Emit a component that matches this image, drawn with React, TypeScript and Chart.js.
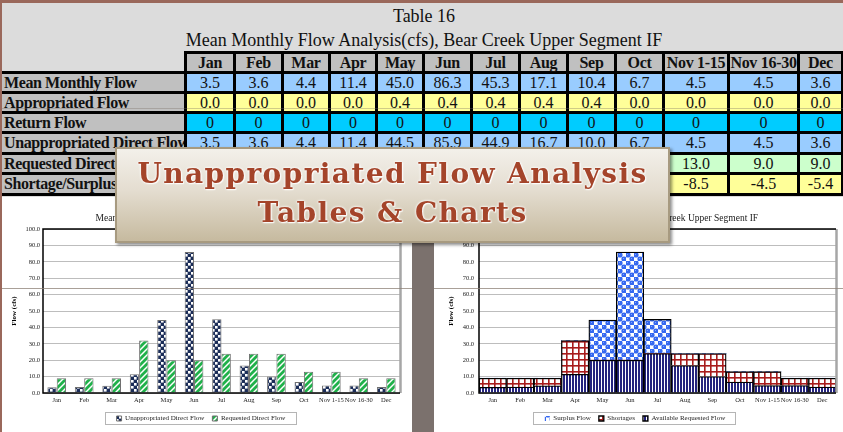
import React, { useEffect, useRef } from "react";
import { Chart, registerables } from "chart.js";
Chart.register(...registerables);

const categories = ["Jan", "Feb", "Mar", "Apr", "May", "Jun", "Jul", "Aug", "Sep", "Oct", "Nov 1-15", "Nov 16-30", "Dec"];
const meanMonthlyFlow = [3.5, 3.6, 4.4, 11.4, 45.0, 86.3, 45.3, 17.1, 10.4, 6.7, 4.5, 4.5, 3.6];
const appropriatedFlow = [0.0, 0.0, 0.0, 0.0, 0.4, 0.4, 0.4, 0.4, 0.4, 0.0, 0.0, 0.0, 0.0];
const returnFlow = [0, 0, 0, 0, 0, 0, 0, 0, 0, 0, 0, 0, 0];
const unappropriatedDirectFlow = [3.5, 3.6, 4.4, 11.4, 44.5, 85.9, 44.9, 16.7, 10.0, 6.7, 4.5, 4.5, 3.6];
const requestedDirectFlow = [9.0, 9.0, 9.0, 32.0, 20.0, 20.0, 24.0, 24.0, 24.0, 13.0, 13.0, 9.0, 9.0];
const shortageSurplus = [-5.5, -5.4, -4.6, -20.6, 24.5, 65.9, 20.9, -7.3, -14.0, -6.3, -8.5, -4.5, -5.4];

const availableRequestedFlow = [3.5, 3.6, 4.4, 11.4, 20.0, 20.0, 24.0, 16.7, 10.0, 6.7, 4.5, 4.5, 3.6];
const shortages = [5.5, 5.4, 4.6, 20.6, 0, 0, 0, 7.3, 14.0, 6.3, 8.5, 4.5, 5.4];
const surplusFlow = [0, 0, 0, 0, 24.5, 65.9, 20.9, 0, 0, 0, 0, 0, 0];

const tableRows = [
  { label: "Mean Monthly Flow", values: meanMonthlyFlow, color: "#99ccff", digits: 1 },
  { label: "Appropriated Flow", values: appropriatedFlow, color: "#ffff99", digits: 1 },
  { label: "Return Flow", values: returnFlow, color: "#00ccff", digits: 0 },
  { label: "Unappropriated Direct Flow", values: unappropriatedDirectFlow, color: "#99ccff", digits: 1 },
  { label: "Requested Direct Flow", values: requestedDirectFlow, color: "#ccffcc", digits: 1 },
  { label: "Shortage/Surplus", values: shortageSurplus, color: "#ffff99", digits: 1 },
];

const SERIF = "'Liberation Serif', 'Times New Roman', serif";

// layout constants
const colLefts = [184, 233, 281, 328, 375, 422, 470, 518, 566, 614, 662, 727, 797, 841];
const rowTops = [51, 71, 91, 111, 131, 152, 172, 193];
const LINE = 3;

function makePattern(w: number, h: number, draw: (c: CanvasRenderingContext2D) => void) {
  const c = document.createElement("canvas");
  c.width = w;
  c.height = h;
  const x = c.getContext("2d")!;
  draw(x);
  return x.createPattern(c, "repeat")!;
}

function framePlugin(id: string) {
  return {
    id,
    afterDatasetsDraw(chart: any) {
      const { ctx, chartArea: a } = chart;
      ctx.save();
      ctx.strokeStyle = "#a6a6a6";
      ctx.lineWidth = 2.5;
      ctx.beginPath();
      ctx.moveTo(a.right + 0.5, a.top);
      ctx.lineTo(a.right + 0.5, a.bottom);
      ctx.stroke();
      ctx.strokeStyle = "#000";
      ctx.lineWidth = 1.5;
      ctx.beginPath();
      ctx.moveTo(a.right, a.top);
      ctx.lineTo(a.left, a.top);
      ctx.lineTo(a.left, a.bottom);
      ctx.lineTo(a.right, a.bottom);
      ctx.stroke();
      ctx.restore();
    },
  };
}

function titlePlugin(id: string, text: string, y: number) {
  return {
    id,
    afterDraw(chart: any) {
      const { ctx, chartArea: a } = chart;
      ctx.save();
      ctx.font = `9.5px ${SERIF}`;
      ctx.fillStyle = "#222";
      ctx.textAlign = "center";
      ctx.textBaseline = "middle";
      ctx.fillText(text, (a.left + a.right) / 2, y);
      ctx.restore();
    },
  };
}

const legendBoxPlugin = {
  id: "legendBox",
  afterDraw(chart: any) {
    const lg = chart.legend;
    if (!lg || !lg.legendHitBoxes || !lg.legendHitBoxes.length) return;
    const hb = lg.legendHitBoxes;
    let l = Infinity, r = -Infinity, t = Infinity, b = -Infinity;
    hb.forEach((h: any) => {
      l = Math.min(l, h.left);
      r = Math.max(r, h.left + h.width);
      t = Math.min(t, h.top);
      b = Math.max(b, h.top + h.height);
    });
    const ctx = chart.ctx;
    ctx.save();
    ctx.strokeStyle = "#b5b5b5";
    ctx.lineWidth = 1;
    ctx.strokeRect(Math.round(l - 12) + 0.5, Math.round(t - 3) + 0.5, Math.round(r - l + 22), Math.round(b - t + 5));
    ctx.restore();
  },
};

function baseScales(yWidth: number, titlePad: number, stacked: boolean, tickPad: number) {
  return {
    x: {
      stacked,
      ticks: { font: { family: SERIF, size: 6.5 }, color: "#222", padding: 3, maxRotation: 0, autoSkip: false },
      grid: { display: false, drawTicks: false },
      border: { display: false },
      afterFit: (s: any) => { s.height = 14; },
    },
    y: {
      stacked,
      min: 0,
      max: 100,
      ticks: {
        stepSize: 10,
        font: { family: SERIF, size: 6.5 },
        color: "#222",
        padding: tickPad,
        callback: (v: any) => Number(v).toFixed(1),
      },
      grid: { color: "#bdbdbd", drawTicks: false, tickLength: 0 },
      border: { display: false },
      title: {
        display: true,
        text: "Flow (cfs)",
        font: { family: SERIF, size: 7, weight: "bold" },
        color: "#000",
        padding: { top: titlePad, bottom: 0 },
      },
      afterFit: (s: any) => { s.width = yWidth; },
    },
  };
}

export default function App() {
  const leftRef = useRef<HTMLCanvasElement>(null);
  const rightRef = useRef<HTMLCanvasElement>(null);

  useEffect(() => {
    const navyChecker = makePattern(6, 6, (c) => {
      c.fillStyle = "#1b2d58";
      c.fillRect(0, 0, 6, 6);
      c.fillStyle = "#ffffff";
      c.fillRect(0, 0, 2.6, 2.6);
      c.fillRect(3, 3, 2.6, 2.6);
    });
    const greenDiag = makePattern(6, 6, (c) => {
      c.fillStyle = "#ffffff";
      c.fillRect(0, 0, 6, 6);
      c.strokeStyle = "#1fb14a";
      c.lineWidth = 2.8;
      c.beginPath();
      c.moveTo(-1, 7); c.lineTo(7, -1);
      c.moveTo(-4, 4); c.lineTo(4, -4);
      c.moveTo(2, 10); c.lineTo(10, 2);
      c.stroke();
    });
    const availVert = makePattern(3, 1, (c) => {
      c.fillStyle = "#ffffff";
      c.fillRect(0, 0, 3, 1);
      c.fillStyle = "#24247e";
      c.fillRect(0, 0, 2, 1);
    });
    const shortGrid = makePattern(6, 6, (c) => {
      c.fillStyle = "#ffffff";
      c.fillRect(0, 0, 6, 6);
      c.fillStyle = "#a81c1c";
      c.fillRect(0, 0, 6, 1.6);
      c.fillRect(0, 0, 1.6, 6);
    });
    const surplusCircles = makePattern(8, 8, (c) => {
      c.fillStyle = "#ffffff";
      c.fillRect(0, 0, 8, 8);
      c.fillStyle = "#3568f0";
      c.fillRect(0, 0, 4, 4);
      c.fillRect(4, 4, 4, 4);
      c.beginPath();
      c.arc(2, 2, 2.6, 0, Math.PI * 2);
      c.arc(6, 6, 2.6, 0, Math.PI * 2);
      c.fill();
      c.fillStyle = "#7ea3ff";
      c.fillRect(1, 1, 1, 1);
      c.fillRect(5, 5, 1, 1);
    });

    const left = new Chart(leftRef.current!, {
      type: "bar",
      data: {
        labels: categories,
        datasets: [
          { label: "Unappropriated Direct Flow", data: unappropriatedDirectFlow, backgroundColor: navyChecker as any, borderColor: "#6f6f6f", borderWidth: 1, categoryPercentage: 0.68, barPercentage: 1 },
          { label: "Requested Direct Flow", data: requestedDirectFlow, backgroundColor: greenDiag as any, borderColor: "#6f6f6f", borderWidth: 1, categoryPercentage: 0.68, barPercentage: 1 },
        ],
      },
      options: {
        animation: false,
        responsive: false,
        layout: { padding: { left: 0, right: 12, top: 32, bottom: 0 } },
        scales: baseScales(41, 8, false, 3) as any,
        plugins: {
          legend: { position: "bottom", labels: { font: { family: SERIF, size: 7 }, color: "#222", boxWidth: 5, boxHeight: 5, padding: 8 } },
          tooltip: { enabled: false },
        },
      },
      plugins: [framePlugin("frameL"), titlePlugin("titleL", "Mean Monthly Flow Analysis(cfs), Bear Creek Upper Segment IF", 21), legendBoxPlugin],
    });

    const zeroless = (c: any) => (c.raw === 0 ? 0 : 1.3);
    const right = new Chart(rightRef.current!, {
      type: "bar",
      data: {
        labels: categories,
        datasets: [
          { label: "Available Requested Flow", data: availableRequestedFlow, backgroundColor: availVert as any, borderColor: "#000", borderWidth: zeroless as any, categoryPercentage: 1, barPercentage: 1 },
          { label: "Shortages", data: shortages, backgroundColor: shortGrid as any, borderColor: "#000", borderWidth: zeroless as any, categoryPercentage: 1, barPercentage: 1 },
          { label: "Surplus Flow", data: surplusFlow, backgroundColor: surplusCircles as any, borderColor: "#000", borderWidth: zeroless as any, categoryPercentage: 1, barPercentage: 1 },
        ],
      },
      options: {
        animation: false,
        responsive: false,
        layout: { padding: { left: 0, right: 7, top: 32, bottom: 0 } },
        scales: baseScales(45, 13, true, 5) as any,
        plugins: {
          legend: { position: "bottom", reverse: true, labels: { font: { family: SERIF, size: 7 }, color: "#222", boxWidth: 5, boxHeight: 5, padding: 8 } },
          tooltip: { enabled: false },
        },
      },
      plugins: [framePlugin("frameR"), titlePlugin("titleR", "Unappropriated Flow, Bear Creek Upper Segment IF", 21), legendBoxPlugin],
    });

    return () => {
      left.destroy();
      right.destroy();
    };
  }, []);

  const abs = (l: number, t: number, w: number, h: number, extra: any = {}) => ({
    position: "absolute" as const, left: l, top: t, width: w, height: h, ...extra,
  });

  const cells: any[] = [];
  cells.push(<div key="gridbg" style={abs(colLefts[0], rowTops[0], 843 - colLefts[0], rowTops[7] + LINE - rowTops[0], { background: "#000" })} />);
  cells.push(<div key="labbg" style={abs(2, rowTops[1], colLefts[0] - 2, rowTops[7] + LINE - rowTops[1], { background: "#000" })} />);
  categories.forEach((c, i) => {
    const l = colLefts[i] + LINE;
    const w = colLefts[i + 1] - l;
    cells.push(
      <div key={"h" + i} style={abs(l, rowTops[0] + LINE, w, rowTops[1] - rowTops[0] - LINE, {
        background: "#c0c0c0", fontWeight: "bold", fontSize: 16, lineHeight: `${rowTops[1] - rowTops[0] - LINE}px`, textAlign: "center", whiteSpace: "nowrap", letterSpacing: -0.3,
      })}>{c}</div>
    );
  });
  tableRows.forEach((row, r) => {
    const t = rowTops[r + 1] + LINE;
    const h = rowTops[r + 2] - rowTops[r + 1] - LINE;
    cells.push(
      <div key={"l" + r} style={abs(2, t, colLefts[0] - 2, h, {
        background: "#c0c0c0", fontWeight: "bold", fontSize: 16, lineHeight: `${h}px`, paddingLeft: 2, boxSizing: "border-box", whiteSpace: "nowrap", overflow: "hidden", letterSpacing: -0.4,
      })}>{row.label}</div>
    );
    row.values.forEach((v, i) => {
      const l = colLefts[i] + LINE;
      const w = colLefts[i + 1] - l;
      cells.push(
        <div key={`c${r}_${i}`} style={abs(l, t, w, h, {
          background: row.color, fontSize: 16, lineHeight: `${h}px`, textAlign: "center", whiteSpace: "nowrap",
        })}>{v.toFixed(row.digits)}</div>
      );
    });
  });

  return (
    <div style={{ position: "fixed", left: 0, top: 0, width: 843, height: 432, overflow: "hidden", background: "#ffffff", fontFamily: SERIF, color: "#111" }}>
      <div style={abs(0, 0, 843, 197, { background: "#dcdcdc" })} />
      <div style={abs(0, 4, 848, 24, { textAlign: "center", fontSize: 18, lineHeight: "24px" })}>Table 16</div>
      <div style={abs(0, 28, 848, 24, { textAlign: "center", fontSize: 18, lineHeight: "24px" })}>Mean Monthly Flow Analysis(cfs), Bear Creek Upper Segment IF</div>
      {cells}
      <div style={abs(0, 108, 843, 1, { background: "rgba(120,110,100,0.35)" })} />

      <div style={abs(2, 197, 410, 235, { background: "#fff" })}>
        <canvas ref={leftRef} width={410} height={235} style={{ display: "block" }} />
      </div>
      <div style={abs(434, 197, 409, 235, { background: "#fff" })}>
        <canvas ref={rightRef} width={409} height={235} style={{ display: "block" }} />
      </div>
      <div style={abs(0, 288, 843, 1, { background: "rgba(140,128,118,0.75)" })} />
      <div style={abs(412, 197, 22, 235, { background: "#7b716d" })} />

      <div style={abs(0, 0, 843, 3, { background: "#9a685b" })} />
      <div style={abs(0, 0, 2, 432, { background: "#9a685b" })} />

      <div style={abs(115, 147, 555, 96, {
        boxSizing: "border-box", border: "2px solid #a79a80",
        background: "linear-gradient(to bottom, #f3f0ea 0%, #e4ddd0 45%, #c6ba9f 100%)",
        boxShadow: "2px 2px 3px rgba(0,0,0,0.45)", zIndex: 10, textAlign: "center",
        fontFamily: "'DejaVu Serif', serif", fontWeight: "bold", color: "#a4442a",
        textShadow: "0 0 2px #fff, 0 0 3px #fff, 1px 1px 1px rgba(255,255,255,0.9)",
      })}>
        <div style={{ position: "absolute", left: 0, right: 0, top: 8, fontSize: 28, lineHeight: "34px", letterSpacing: 1.4 }}>Unappropriated Flow Analysis</div>
        <div style={{ position: "absolute", left: 0, right: 0, top: 47, fontSize: 28, lineHeight: "34px", letterSpacing: 1.4 }}>Tables &amp; Charts</div>
      </div>
    </div>
  );
}
